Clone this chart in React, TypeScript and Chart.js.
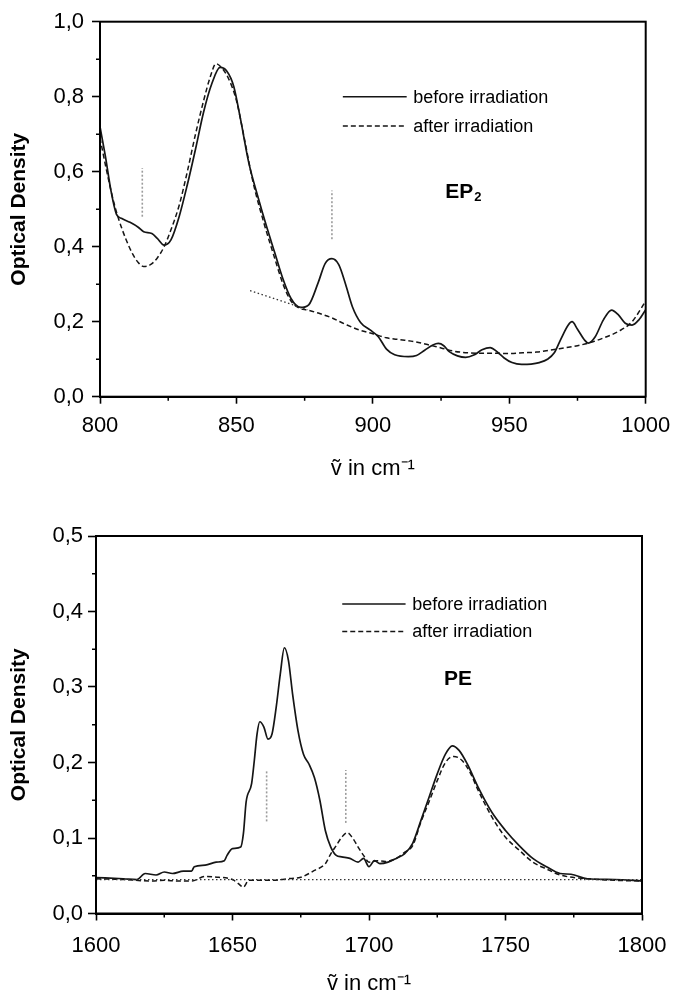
import React, { useEffect, useRef } from 'react';
import { Chart, registerables } from 'chart.js';

Chart.register(...registerables);

// ---------- EP2 panel (800–1000 cm-1) ----------
const ep2BeforeX = [800, 802, 804, 806, 808, 811, 814, 816, 819, 821, 823.5, 826, 829, 832, 835, 838, 841, 844, 846.5, 849, 851.5, 854.5, 858, 861, 864, 867, 870, 873.5, 876.5, 880, 882.5, 885, 887.5, 890, 892.5, 895.5, 899, 902, 905, 908, 913, 916, 919, 922, 924, 926, 928, 931, 934, 937, 940, 943, 945.5, 948, 951, 954.5, 958, 961, 964, 966.5, 969, 971.5, 973, 975, 977.5, 979, 981.5, 984.5, 987.5, 990, 992.5, 995, 997.5, 1000];
const ep2BeforeY = [0.72, 0.64, 0.55, 0.487, 0.475, 0.465, 0.452, 0.44, 0.435, 0.422, 0.404, 0.418, 0.48, 0.565, 0.66, 0.76, 0.835, 0.878, 0.868, 0.828, 0.74, 0.625, 0.53, 0.455, 0.385, 0.315, 0.262, 0.238, 0.245, 0.305, 0.355, 0.368, 0.352, 0.3, 0.24, 0.198, 0.178, 0.16, 0.127, 0.112, 0.107, 0.11, 0.124, 0.138, 0.142, 0.136, 0.12, 0.109, 0.105, 0.111, 0.125, 0.131, 0.12, 0.104, 0.091, 0.086, 0.087, 0.091, 0.1, 0.117, 0.155, 0.19, 0.2, 0.18, 0.152, 0.143, 0.16, 0.205, 0.231, 0.218, 0.196, 0.191, 0.205, 0.232];
const ep2AfterX = [800, 802.5, 805, 807, 809.5, 812, 814, 816, 818.5, 821, 823.5, 826, 829, 832, 835, 838, 840.5, 842.5, 844.5, 847, 850, 853, 856, 860, 864, 867, 870, 873, 876, 880, 885, 890, 895, 900, 905, 910, 915, 920, 925, 930, 935, 940, 945, 950, 955, 960, 965, 970, 975, 980, 985, 990, 995, 1000];
const ep2AfterY = [0.69, 0.6, 0.52, 0.47, 0.42, 0.38, 0.358, 0.347, 0.352, 0.37, 0.4, 0.445, 0.51, 0.6, 0.7, 0.79, 0.855, 0.888, 0.878, 0.85, 0.79, 0.685, 0.575, 0.465, 0.37, 0.302, 0.255, 0.236, 0.231, 0.223, 0.21, 0.193, 0.178, 0.168, 0.157, 0.152, 0.147, 0.139, 0.13, 0.121, 0.117, 0.116, 0.116, 0.115, 0.117, 0.119, 0.124, 0.13, 0.136, 0.145, 0.158, 0.174, 0.2, 0.255];
const ep2BaselineX = [855, 876];
const ep2BaselineY = [0.283, 0.232];
const ep2ArrowX = [815.5, 885];
const ep2ArrowLow = [0.48, 0.42];
const ep2ArrowHigh = [0.61, 0.55];

// ---------- PE panel (1600–1800 cm-1) ----------
const peBeforeX = [1600, 1610, 1615, 1618, 1622, 1625, 1628, 1632, 1635, 1636, 1640, 1644, 1647, 1648, 1650, 1653, 1654, 1655, 1657, 1658, 1659, 1660, 1661.5, 1663, 1664.5, 1666, 1667.5, 1669, 1670.5, 1672, 1674, 1676, 1678, 1680, 1682, 1684, 1686, 1688, 1690, 1693, 1696, 1698, 1700, 1702, 1704, 1707, 1710, 1713, 1716, 1719, 1722, 1725, 1728, 1730.5, 1733, 1736, 1740, 1745, 1750, 1755, 1760, 1765, 1770, 1774, 1780, 1790, 1800];
const peBeforeY = [0.0476, 0.046, 0.045, 0.053, 0.051, 0.055, 0.053, 0.056, 0.056, 0.062, 0.064, 0.068, 0.07, 0.077, 0.086, 0.088, 0.106, 0.148, 0.172, 0.203, 0.238, 0.254, 0.247, 0.231, 0.238, 0.273, 0.317, 0.352, 0.335, 0.291, 0.242, 0.211, 0.198, 0.18, 0.15, 0.11, 0.088, 0.077, 0.075, 0.073, 0.068, 0.073, 0.062, 0.07, 0.066, 0.068, 0.073, 0.079, 0.093, 0.123, 0.154, 0.185, 0.211, 0.222, 0.216, 0.198, 0.167, 0.134, 0.11, 0.09, 0.073, 0.062, 0.053, 0.052, 0.046, 0.045, 0.043];
const peAfterX = [1600, 1610, 1620, 1625, 1630, 1635, 1640, 1645, 1650, 1652, 1654, 1656, 1660, 1665, 1670, 1675, 1680, 1684, 1686, 1688, 1690, 1692, 1694, 1696, 1698, 1700, 1703, 1706, 1710, 1713, 1716, 1719, 1722, 1725, 1728, 1731, 1734, 1737, 1740, 1745, 1750, 1755, 1760, 1765, 1770, 1780, 1790, 1800];
const peAfterY = [0.046, 0.045, 0.043, 0.044, 0.043, 0.043, 0.049, 0.048, 0.045, 0.04, 0.035, 0.044, 0.044, 0.044, 0.046, 0.048, 0.057, 0.066, 0.079, 0.09, 0.101, 0.107, 0.1, 0.088, 0.077, 0.068, 0.07, 0.069, 0.073, 0.081, 0.09, 0.121, 0.148, 0.176, 0.2, 0.208, 0.203, 0.187, 0.163, 0.128, 0.101, 0.084, 0.068, 0.059, 0.051, 0.046, 0.044, 0.043];
const peBaselineX = [1600, 1800];
const peBaselineY = [0.045, 0.045];
const peArrowX = [1662.5, 1691.5];
const peArrowLow = [0.122, 0.12];
const peArrowHigh = [0.19, 0.19];

const legendLabels = ['before irradiation', 'after irradiation'];
const yTitle = 'Optical Density';
const xTitle = 'ṽ in cm⁻¹';

const FONT = '"Liberation Sans", Arial, Helvetica, sans-serif';
const INK = '#151515';

const zip = (xs: number[], ys: number[]) => xs.map((x, i) => ({ x, y: ys[i] }));

function arrowSets(xs: number[], lo: number[], hi: number[]) {
  return xs.map((x, i) => ({
    data: [{ x, y: lo[i] }, { x, y: hi[i] }],
    borderColor: '#9c9c9c',
    borderWidth: 1.6,
    borderDash: [2, 2],
    pointRadius: 0,
    tension: 0,
  }));
}

interface Panel {
  top: number;
  height: number;
  area: { left: number; top: number; right: number; bottom: number };
  xMin: number; xMax: number; xStep: number; xMinor: number;
  yMin: number; yMax: number; yStep: number; yMinor: number;
  datasets: any[];
  legendFx: [number, number, number];
  legendFy: [number, number];
  label: { main: string; sub: string; fx: number; fy: number };
  yTickPad: number;
  xTickPad: number;
  xTitlePad: number;
}

const W = 673;

const panels: Panel[] = [
  {
    top: 0,
    height: 490,
    area: { left: 100, top: 21.7, right: 645.7, bottom: 396.7 },
    xMin: 800, xMax: 1000, xStep: 50, xMinor: 25,
    yMin: 0, yMax: 1, yStep: 0.2, yMinor: 0.1,
    datasets: [
      { data: zip(ep2BaselineX, ep2BaselineY), borderColor: '#333', borderWidth: 1.3, borderDash: [1.5, 2.5], pointRadius: 0, tension: 0 },
      ...arrowSets(ep2ArrowX, ep2ArrowLow, ep2ArrowHigh),
      { data: zip(ep2AfterX, ep2AfterY), borderColor: INK, borderWidth: 1.5, borderDash: [5, 3], pointRadius: 0, cubicInterpolationMode: 'monotone' },
      { data: zip(ep2BeforeX, ep2BeforeY), borderColor: INK, borderWidth: 1.7, pointRadius: 0, cubicInterpolationMode: 'monotone' },
    ],
    legendFx: [0.445, 0.562, 0.574],
    legendFy: [0.2, 0.278],
    label: { main: 'EP', sub: '2', fx: 0.666, fy: 0.449 },
    yTickPad: 8,
    xTickPad: 9,
    xTitlePad: 10,
  },
  {
    top: 495,
    height: 500,
    area: { left: 96, top: 41, right: 642, bottom: 418.5 },
    xMin: 1600, xMax: 1800, xStep: 50, xMinor: 25,
    yMin: 0, yMax: 0.5, yStep: 0.1, yMinor: 0.05,
    datasets: [
      { data: zip(peBaselineX, peBaselineY), borderColor: '#333', borderWidth: 1.3, borderDash: [1.5, 2.5], pointRadius: 0, tension: 0 },
      ...arrowSets(peArrowX, peArrowLow, peArrowHigh),
      { data: zip(peAfterX, peAfterY), borderColor: INK, borderWidth: 1.5, borderDash: [5, 3], pointRadius: 0, cubicInterpolationMode: 'monotone' },
      { data: zip(peBeforeX, peBeforeY), borderColor: INK, borderWidth: 1.7, pointRadius: 0, cubicInterpolationMode: 'monotone' },
    ],
    legendFx: [0.451, 0.567, 0.579],
    legendFy: [0.18, 0.253],
    label: { main: 'PE', sub: '', fx: 0.663, fy: 0.376 },
    yTickPad: 5,
    xTickPad: 12,
    xTitlePad: 0,
  },
];

function makeDecor(p: Panel) {
  return {
    id: 'decor',
    afterDraw(chart: any) {
      const { ctx, chartArea: a, scales } = chart;
      const xs = scales.x;
      const ys = scales.y;
      ctx.save();
      // frame
      ctx.strokeStyle = '#000';
      ctx.lineWidth = 2;
      ctx.setLineDash([]);
      ctx.strokeRect(a.left, a.top, a.right - a.left, a.bottom - a.top);
      // minor ticks
      ctx.lineWidth = 1.5;
      ctx.beginPath();
      const eps = 1e-6;
      for (let v = p.xMin + p.xMinor; v < p.xMax - eps; v += p.xMinor) {
        const r = (v - p.xMin) / p.xStep;
        if (Math.abs(r - Math.round(r)) < 1e-6) continue;
        const px = xs.getPixelForValue(v);
        ctx.moveTo(px, a.bottom);
        ctx.lineTo(px, a.bottom + 4);
      }
      for (let v = p.yMin + p.yMinor; v < p.yMax - eps; v += p.yMinor) {
        const r = (v - p.yMin) / p.yStep;
        if (Math.abs(r - Math.round(r)) < 1e-6) continue;
        const py = ys.getPixelForValue(v);
        ctx.moveTo(a.left, py);
        ctx.lineTo(a.left - 4, py);
      }
      ctx.stroke();
      // legend
      const w = a.right - a.left;
      const h = a.bottom - a.top;
      const x0 = a.left + p.legendFx[0] * w;
      const x1 = a.left + p.legendFx[1] * w;
      const tx = a.left + p.legendFx[2] * w;
      ctx.strokeStyle = INK;
      ctx.fillStyle = '#000';
      ctx.font = `18px ${FONT}`;
      ctx.textBaseline = 'middle';
      ctx.textAlign = 'left';
      legendLabels.forEach((lab, i) => {
        const y = a.top + p.legendFy[i] * h;
        ctx.lineWidth = i === 0 ? 1.6 : 1.5;
        ctx.setLineDash(i === 0 ? [] : [5, 3]);
        ctx.beginPath();
        ctx.moveTo(x0, y);
        ctx.lineTo(x1, y);
        ctx.stroke();
        ctx.fillText(lab, tx, y + 1);
      });
      ctx.setLineDash([]);
      // panel label
      const lx = a.left + p.label.fx * w;
      const ly = a.top + p.label.fy * h;
      ctx.font = `bold 21px ${FONT}`;
      const mw = ctx.measureText(p.label.main).width;
      ctx.font = `bold 13px ${FONT}`;
      const sw = p.label.sub ? ctx.measureText(p.label.sub).width + 1 : 0;
      const startX = lx - (mw + sw) / 2;
      ctx.font = `bold 21px ${FONT}`;
      ctx.textBaseline = 'alphabetic';
      ctx.fillText(p.label.main, startX, ly + 7.5);
      if (p.label.sub) {
        ctx.font = `bold 13px ${FONT}`;
        ctx.fillText(p.label.sub, startX + mw + 1, ly + 11);
      }
      ctx.restore();
    },
  };
}

function SpectrumPanel({ p }: { p: Panel }) {
  const ref = useRef<HTMLCanvasElement | null>(null);
  useEffect(() => {
    if (!ref.current) return;
    const fmtY = (v: number) => v.toFixed(1).replace('.', ',');
    const chart = new Chart(ref.current, {
      type: 'line',
      data: { datasets: p.datasets as any },
      options: {
        animation: false,
        responsive: false,
        devicePixelRatio: 1,
        events: [],
        layout: { padding: { left: 0, top: p.area.top, right: W - p.area.right, bottom: 0 } },
        plugins: { legend: { display: false }, tooltip: { enabled: false } },
        elements: { line: { fill: false } },
        scales: {
          x: {
            type: 'linear',
            min: p.xMin,
            max: p.xMax,
            afterFit: (s: any) => {
              s.height = p.height - p.area.bottom;
              s.paddingLeft = 0;
              s.paddingRight = 0;
            },
            afterBuildTicks: (s: any) => {
              const t = [];
              for (let v = p.xMin; v <= p.xMax + 1e-6; v += p.xStep) t.push({ value: v });
              s.ticks = t;
            },
            ticks: {
              color: '#000',
              font: { family: FONT, size: 22 },
              padding: p.xTickPad,
              maxRotation: 0,
              autoSkip: false,
              callback: (v: any) => String(Math.round(Number(v))),
            },
            grid: { drawOnChartArea: false, drawTicks: true, tickLength: 7, tickColor: '#000', tickWidth: 1.6 },
            border: { display: true, color: '#000', width: 2 },
            title: {
              display: true,
              text: xTitle,
              color: '#000',
              font: { family: FONT, size: 22, lineHeight: 1 },
              padding: { top: 0, bottom: p.xTitlePad },
            },
          },
          y: {
            type: 'linear',
            min: p.yMin,
            max: p.yMax,
            afterFit: (s: any) => {
              s.width = p.area.left;
              s.paddingTop = 0;
              s.paddingBottom = 0;
            },
            afterBuildTicks: (s: any) => {
              const t = [];
              const n = Math.round((p.yMax - p.yMin) / p.yStep);
              for (let i = 0; i <= n; i++) t.push({ value: p.yMin + i * p.yStep });
              s.ticks = t;
            },
            ticks: {
              color: '#000',
              font: { family: FONT, size: 22 },
              padding: p.yTickPad,
              autoSkip: false,
              callback: (v: any) => fmtY(Number(v)),
            },
            grid: { drawOnChartArea: false, drawTicks: true, tickLength: 8, tickColor: '#000', tickWidth: 1.6 },
            border: { display: true, color: '#000', width: 2 },
            title: {
              display: true,
              text: yTitle,
              color: '#000',
              font: { family: FONT, size: 21, weight: 'bold', lineHeight: 1.2 },
              padding: { top: 7, bottom: 0 },
            },
          },
        },
      } as any,
      plugins: [makeDecor(p)],
    });
    return () => chart.destroy();
  }, [p]);
  return (
    <canvas
      ref={ref}
      width={W}
      height={p.height}
      style={{ position: 'absolute', left: 0, top: p.top, width: W, height: p.height, display: 'block' }}
    />
  );
}

export default function App() {
  return (
    <div style={{ position: 'absolute', left: 0, top: 0, width: W, height: 995, background: '#fff', overflow: 'hidden' }}>
      {panels.map((p, i) => (
        <SpectrumPanel key={i} p={p} />
      ))}
    </div>
  );
}
